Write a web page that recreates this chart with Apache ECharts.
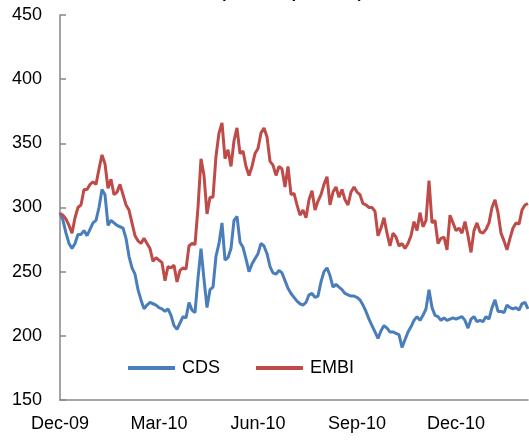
<!DOCTYPE html>
<html>
<head>
<meta charset="utf-8">
<script src="https://cdn.jsdelivr.net/npm/echarts@6/dist/echarts.min.js"></script>
<style>html,body{margin:0;padding:0;background:#fff}#c{width:529px;height:440px}</style>
</head>
<body>
<div id="c"></div>
<script>
var tickLabels = ['Dec-09', 'Mar-10', 'Jun-10', 'Sep-10', 'Dec-10'];
var tickIndex = [0, 33, 66, 99, 132];

var cds = [296,290,280,272,268,272,279,279,282,278,283,288,290,300,314,310,286,290,288,286,
285,284,276,262,253,248,236,228,221,224,226,225,224,222,221,219,221,216,208,205,
210,215,214,226,220,218,245,268,244,222,236,238,262,272,288,259,261,268,290,293,
273,269,260,250,256,260,264,272,270,264,254,249,248,251,249,243,237,233,230,227,
225,224,226,232,233,230,231,242,250,253,247,238,240,238,236,233,232,231,231,230,
228,224,219,213,208,203,198,204,208,206,203,203,202,201,191,197,203,207,212,215,
212,216,221,236,222,216,215,212,214,212,213,214,213,214,215,212,206,213,215,211,
212,211,215,213,222,228,219,219,218,224,222,221,222,220,225,226,221];

var embi = [295,294,291,286,280,292,300,302,314,314,318,320,318,330,341,334,315,322,310,312,
318,310,302,298,288,278,274,272,276,272,268,258,261,259,257,243,254,253,255,242,
251,253,252,270,272,271,300,338,325,295,308,308,340,358,366,338,345,332,352,362,
342,344,332,325,332,342,346,358,362,355,336,333,325,332,330,316,332,310,311,302,
294,298,292,306,313,298,305,310,318,324,302,312,316,308,314,306,302,312,316,312,
310,303,302,300,300,297,278,284,292,280,270,280,277,270,272,268,272,278,289,282,
296,285,290,321,288,290,272,276,277,267,294,288,282,284,280,289,278,265,282,288,
281,280,283,288,300,306,296,280,274,267,276,284,288,287,298,302,303];

var cats = cds.map(function (v, i) { return String(i); });

var chart = echarts.init(document.getElementById('c'), null, {renderer: 'canvas'});
var font = 'Liberation Sans, Arial, sans-serif';
chart.setOption({
  animation: false,
  textStyle: {fontFamily: font},
  graphic: [{
    type: 'text',
    x: 294, y: 2,
    style: {text: '(basis points)', font: 'italic 25px ' + font, fill: '#000', textAlign: 'center', textVerticalAlign: 'bottom'}
  }],
  grid: {left: 60, right: 1, top: 15, bottom: 40},
  legend: {
    left: 123, top: 354,
    itemWidth: 47, itemHeight: 4, itemGap: 36,
    icon: 'rect',
    textStyle: {fontSize: 18, color: '#000', fontFamily: font, padding: [0, 0, 0, 2]},
    data: ['CDS', 'EMBI']
  },
  xAxis: {
    type: 'category',
    data: cats,
    boundaryGap: false,
    axisLine: {lineStyle: {color: '#868686', width: 1.5}},
    axisTick: {show: false},
    axisLabel: {
      interval: function (idx) { return tickIndex.indexOf(idx) >= 0; },
      formatter: function (v, idx) { var k = tickIndex.indexOf(idx); return k >= 0 ? tickLabels[k] : ''; },
      fontSize: 18, color: '#000', margin: 15, fontFamily: font
    },
    splitLine: {show: false}
  },
  yAxis: {
    type: 'value',
    min: 150, max: 450, interval: 50,
    axisLine: {show: true, lineStyle: {color: '#868686', width: 1.5}},
    axisTick: {show: true, inside: true, length: 6, lineStyle: {color: '#868686', width: 1.5}},
    axisLabel: {fontSize: 18, color: '#000', margin: 18, fontFamily: font},
    splitLine: {show: false}
  },
  series: [
    {name: 'CDS', type: 'line', data: cds, symbol: 'none', lineStyle: {width: 3, color: '#4A7EBB'}, itemStyle: {color: '#4A7EBB'}},
    {name: 'EMBI', type: 'line', data: embi, symbol: 'none', lineStyle: {width: 3, color: '#BE4B48'}, itemStyle: {color: '#BE4B48'}}
  ]
});
</script>
</body>
</html>
